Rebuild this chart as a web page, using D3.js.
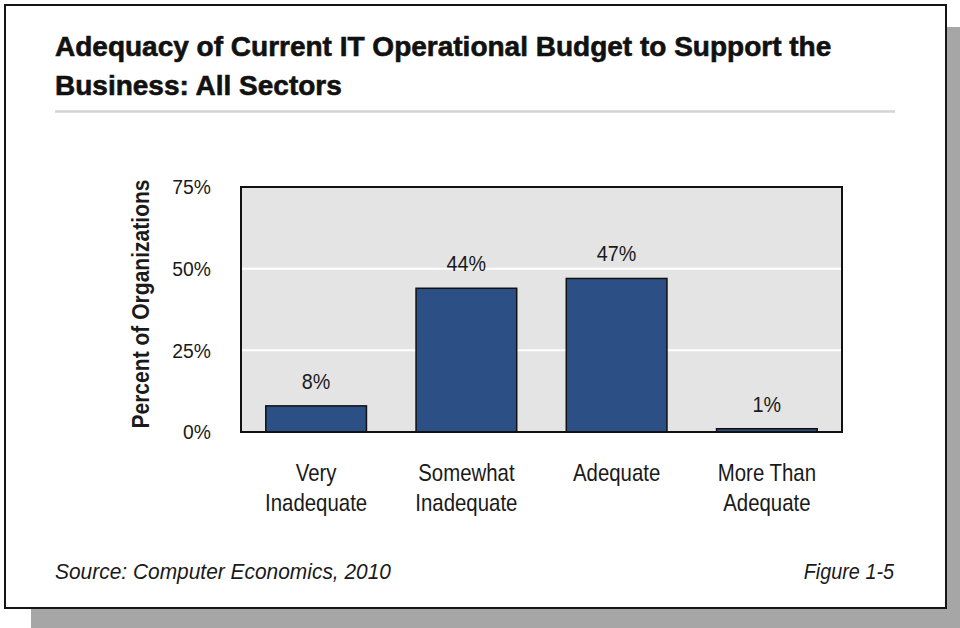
<!DOCTYPE html>
<html>
<head>
<meta charset="utf-8">
<script src="https://cdn.jsdelivr.net/npm/d3@7/dist/d3.min.js"></script>
<style>
  html, body { margin: 0; padding: 0; background: #fff; }
  svg { display: block; }
  text { font-family: "Liberation Sans", Arial, sans-serif; fill: #1a1a1a; }
</style>
</head>
<body>
<svg id="chart" width="960" height="628"></svg>
<script>
// Survey results: share of organizations by budget adequacy rating
const categories = ["Very Inadequate", "Somewhat Inadequate", "Adequate", "More Than Adequate"];
const categoryLines = [["Very", "Inadequate"], ["Somewhat", "Inadequate"], ["Adequate"], ["More Than", "Adequate"]];
const values = [8, 44, 47, 1];
const yTicks = [0, 25, 50, 75];
const titleLines = ["Adequacy of Current IT Operational Budget to Support the", "Business: All Sectors"];
const yAxisTitle = "Percent of Organizations";
const sourceNote = "Source: Computer Economics, 2010";
const figureNote = "Figure 1-5";

const svg = d3.select("#chart");
const W = 960, H = 628;

// narrow-face look: compress glyphs horizontally around an anchor point
function placeText(sel, x, y, sx, rotate) {
  sel.attr("x", 0).attr("y", 0)
    .attr("transform", `translate(${x},${y})${rotate ? ` rotate(${rotate})` : ""} scale(${sx},1)`);
  return sel;
}

// page card with drop shadow
svg.append("rect").attr("x", 31).attr("y", 27).attr("width", W - 31).attr("height", H - 27).attr("fill", "#a6a6a6");
svg.append("rect").attr("x", 5).attr("y", 5).attr("width", 941).attr("height", 603)
  .attr("fill", "#fff").attr("stroke", "#151515").attr("stroke-width", 2);

// title block
const title = svg.append("text").attr("font-weight", "bold").attr("font-size", 28)
  .attr("stroke", "#111").attr("stroke-width", 0.6).style("fill", "#111");
titleLines.forEach((t, i) => {
  title.append("tspan").attr("x", 55).attr("y", 56 + i * 39).text(t);
});
svg.append("line").attr("x1", 55).attr("x2", 895).attr("y1", 111.5).attr("y2", 111.5)
  .attr("stroke", "#d3d3d3").attr("stroke-width", 2.5);

// plot area
const plot = { left: 241, right: 842, top: 187, bottom: 432 };
const x = d3.scaleBand().domain(categories).range([plot.left, plot.right])
  .paddingInner(0.33).paddingOuter(0.165);
const y = d3.scaleLinear().domain([0, 75]).range([plot.bottom, plot.top]);

svg.append("rect").attr("x", plot.left).attr("y", plot.top)
  .attr("width", plot.right - plot.left).attr("height", plot.bottom - plot.top)
  .attr("fill", "#e4e4e4");

// horizontal gridlines
svg.append("g").selectAll("line").data(yTicks.filter(v => v > 0 && v < 75)).join("line")
  .attr("x1", plot.left).attr("x2", plot.right)
  .attr("y1", d => y(d)).attr("y2", d => y(d))
  .attr("stroke", "#fff").attr("stroke-width", 2);

// bars
svg.append("g").selectAll("rect").data(values).join("rect")
  .attr("x", (d, i) => x(categories[i]))
  .attr("width", x.bandwidth())
  .attr("y", d => y(d))
  .attr("height", d => y(0) - y(d))
  .attr("fill", "#2c5086").attr("stroke", "#111").attr("stroke-width", 1.5);

// plot frame
svg.append("rect").attr("x", plot.left).attr("y", plot.top)
  .attr("width", plot.right - plot.left).attr("height", plot.bottom - plot.top)
  .attr("fill", "none").attr("stroke", "#111").attr("stroke-width", 2);

// value labels
svg.append("g").selectAll("text").data(values).join("text")
  .attr("text-anchor", "middle").attr("font-size", 21.5)
  .each(function (d, i) {
    placeText(d3.select(this), x(categories[i]) + x.bandwidth() / 2, y(d) - 17, 0.92);
  })
  .text(d => d + "%");

// y axis
const yAxis = d3.axisLeft(y).tickValues(yTicks).tickFormat(d => d + "%").tickSize(0).tickPadding(30);
const yg = svg.append("g").attr("transform", `translate(${plot.left},0)`).call(yAxis);
yg.select(".domain").remove();
yg.selectAll("text").attr("font-size", 21).attr("font-family", null)
  .attr("x", -30 / 0.92).attr("transform", "scale(0.92,1)");

// y axis title
placeText(svg.append("text"), 149, 304, 0.86, -90)
  .attr("text-anchor", "middle").attr("font-weight", "bold").attr("font-size", 24.5)
  .text(yAxisTitle);

// category labels
svg.append("g").selectAll("text").data(categories).join("text")
  .attr("text-anchor", "middle").attr("font-size", 24)
  .each(function (c, i) {
    const t = d3.select(this)
      .attr("transform", `translate(${x(c) + x.bandwidth() / 2},0) scale(0.85,1)`);
    categoryLines[i].forEach((line, j) => {
      t.append("tspan").attr("x", 0).attr("y", 481 + j * 30.5).text(line);
    });
  });

// footer
placeText(svg.append("text"), 55, 579, 0.93)
  .attr("font-style", "italic").attr("font-size", 22.5).text(sourceNote);
placeText(svg.append("text"), 894, 579, 0.88)
  .attr("text-anchor", "end").attr("font-style", "italic").attr("font-size", 22.5).text(figureNote);
</script>
</body>
</html>
